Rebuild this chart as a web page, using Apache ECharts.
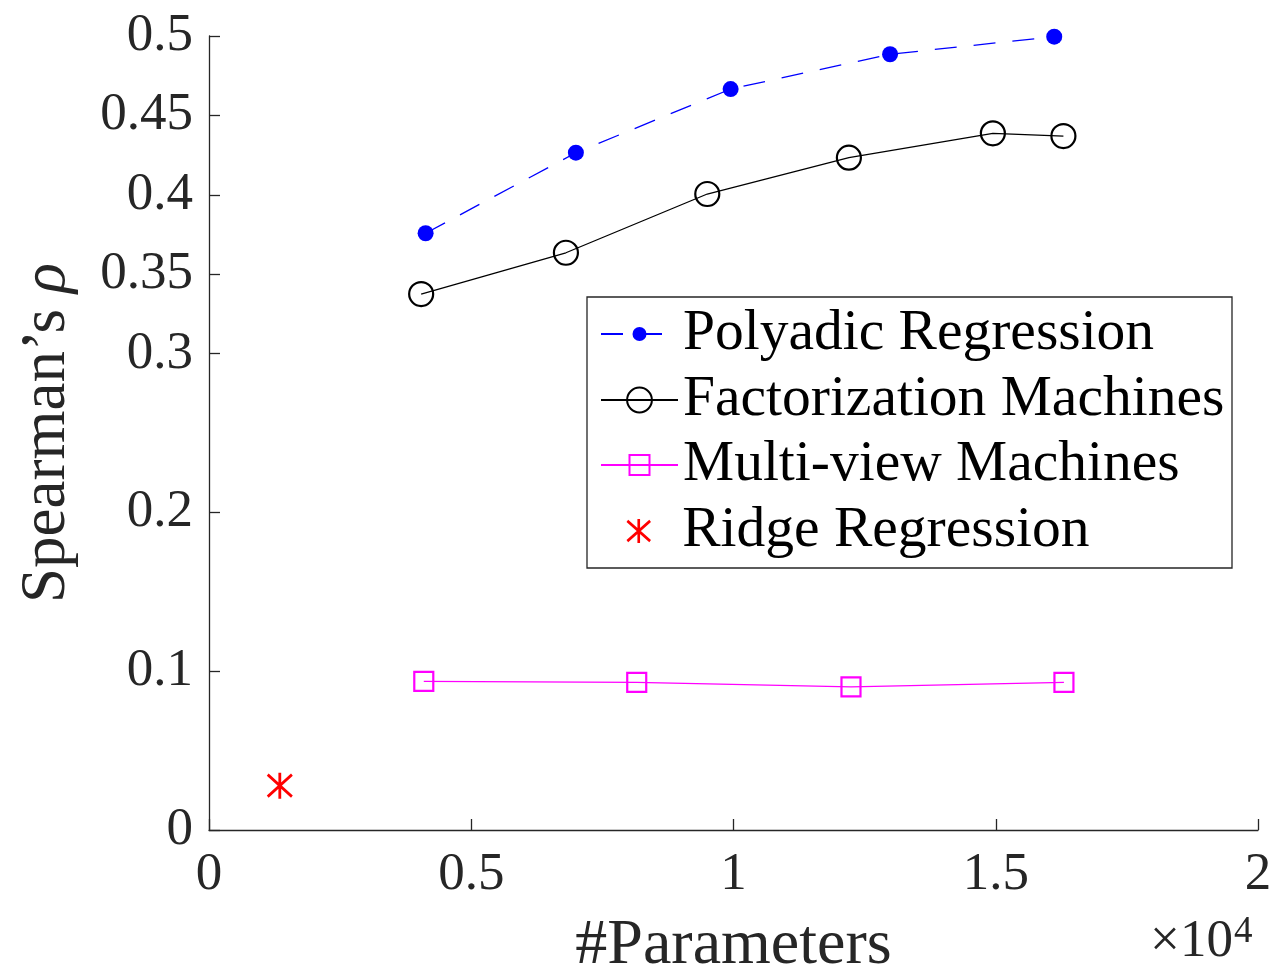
<!DOCTYPE html>
<html>
<head>
<meta charset="utf-8">
<script src="https://cdn.jsdelivr.net/npm/echarts@6/dist/echarts.min.js"></script>
<style>
  html, body { margin: 0; padding: 0; background: #fff; }
  #chart { width: 1274px; height: 974px; }
</style>
</head>
<body>
<div id="chart"></div>
<script>
// Spearman's rho versus model size for four regression models
const seriesNames = ['Polyadic Regression', 'Factorization Machines', 'Multi-view Machines', 'Ridge Regression'];

const polyadicParams = [4130, 6995, 9945, 12985, 16115];
const polyadicRho    = [0.3758, 0.4265, 0.4666, 0.4885, 0.4996];

const fmParams = [4045, 6805, 9500, 12200, 14945, 16290];
const fmRho    = [0.3375, 0.3635, 0.4005, 0.4234, 0.4387, 0.4370];

const mvmParams = [4095, 8155, 12240, 16300];
const mvmRho    = [0.0936, 0.0930, 0.0901, 0.0930];

const ridgeParams = [1350];
const ridgeRho    = [0.0279];

const xTickValues = [0, 5000, 10000, 15000, 20000];
const yTickValues = [0, 0.1, 0.2, 0.3, 0.35, 0.4, 0.45, 0.5];
const xExponent = 4;

const FONT = 'Liberation Serif';
const AXIS_COLOR = '#262626';

const pairs = (xs, ys) => xs.map((x, i) => [x, ys[i]]);

// six-spoke asterisk: a vertical bar plus two diagonal bars
const asterisk = 'path://M-11 -100L11 -100L11 100L-11 100Z' +
  'M-102 -76L-88 -93L102 76L88 93Z' +
  'M-88 93L-102 76L88 -93L102 -76Z';

const chart = echarts.init(document.getElementById('chart'), null, { renderer: 'canvas' });

// one legend per entry so every entry keeps its own marker size
function legendRow(name, centerY, itemHeight, left) {
  return {
    data: [name],
    orient: 'vertical',
    left: left,
    top: centerY - 30,
    padding: 0,
    itemWidth: 77,
    itemHeight: itemHeight,
    selectedMode: false,
    textStyle: { fontFamily: FONT, fontSize: 57.5, color: '#000', lineHeight: 60 }
  };
}

chart.setOption({
  animation: false,
  backgroundColor: '#fff',
  grid: { left: 209, right: 16, top: 36, bottom: 144, containLabel: false, outerBoundsMode: 'none' },
  xAxis: {
    type: 'value',
    min: 0,
    max: 20000,
    interval: 5000,
    name: '#Parameters',
    nameLocation: 'middle',
    nameGap: 84,
    nameTextStyle: { fontFamily: FONT, fontSize: 64, color: AXIS_COLOR },
    axisLine: { show: true, onZero: false, lineStyle: { color: AXIS_COLOR, width: 1.3 } },
    axisTick: { show: true, inside: true, length: 11, customValues: xTickValues, lineStyle: { color: AXIS_COLOR, width: 1.3 } },
    axisLabel: {
      customValues: xTickValues,
      margin: 19,
      fontFamily: FONT, fontSize: 53, color: AXIS_COLOR,
      formatter: v => String(v / Math.pow(10, xExponent))
    },
    splitLine: { show: false }
  },
  yAxis: {
    type: 'value',
    min: 0,
    max: 0.5,
    interval: 0.05,
    name: '{n|Spearman’s }{g|ρ}',
    nameLocation: 'middle',
    nameGap: 130,
    nameTextStyle: {
      fontFamily: FONT, fontSize: 63, color: AXIS_COLOR,
      rich: {
        n: { fontFamily: FONT, fontSize: 63, color: AXIS_COLOR },
        g: { fontFamily: FONT, fontSize: 63, color: AXIS_COLOR, fontStyle: 'italic' }
      }
    },
    axisLine: { show: true, onZero: false, lineStyle: { color: AXIS_COLOR, width: 1.3 } },
    axisTick: { show: true, inside: true, length: 11, customValues: yTickValues, lineStyle: { color: AXIS_COLOR, width: 1.3 } },
    axisLabel: {
      customValues: yTickValues,
      margin: 16,
      fontFamily: FONT, fontSize: 53, color: AXIS_COLOR
    },
    splitLine: { show: false }
  },
  legend: [
    legendRow(seriesNames[0], 334, 17.5, 600),
    legendRow(seriesNames[1], 400, 31, 600),
    legendRow(seriesNames[2], 465, 25, 600),
    legendRow(seriesNames[3], 531, 24, 626.5)
  ],
  graphic: [
    {
      type: 'rect',
      z: 0,
      shape: { x: 587, y: 297, width: 645, height: 271 },
      style: { fill: 'none', stroke: AXIS_COLOR, lineWidth: 1.3 }
    },
    {
      type: 'text',
      x: 1233, y: 969,
      style: { text: '×10', fontFamily: FONT, fontSize: 53, fill: AXIS_COLOR, align: 'right', verticalAlign: 'bottom' }
    },
    {
      type: 'text',
      x: 1234, y: 914,
      style: { text: String(xExponent), fontFamily: FONT, fontSize: 37, fill: AXIS_COLOR, align: 'left', verticalAlign: 'top' }
    }
  ],
  series: [
    {
      name: seriesNames[0],
      type: 'line',
      data: pairs(polyadicParams, polyadicRho),
      symbol: 'circle',
      symbolSize: 16,
      lineStyle: { color: '#0000ff', width: 1.3, type: [22, 17] },
      itemStyle: { color: '#0000ff', borderWidth: 0 },
      z: 3
    },
    {
      name: seriesNames[1],
      type: 'line',
      data: pairs(fmParams, fmRho),
      symbol: 'circle',
      symbolSize: 24,
      lineStyle: { color: '#000000', width: 1.3 },
      itemStyle: { color: 'rgba(0,0,0,0)', borderColor: '#000000', borderWidth: 2.2 },
      z: 3
    },
    {
      name: seriesNames[2],
      type: 'line',
      data: pairs(mvmParams, mvmRho),
      symbol: 'rect',
      symbolSize: 19,
      lineStyle: { color: '#ff00ff', width: 1.3 },
      itemStyle: { color: 'rgba(0,0,0,0)', borderColor: '#ff00ff', borderWidth: 2.2 },
      z: 3
    },
    {
      name: seriesNames[3],
      type: 'scatter',
      data: pairs(ridgeParams, ridgeRho),
      symbol: asterisk,
      symbolSize: 26,
      itemStyle: { color: '#ff0000', opacity: 1 },
      z: 3
    }
  ]
});
</script>
</body>
</html>
